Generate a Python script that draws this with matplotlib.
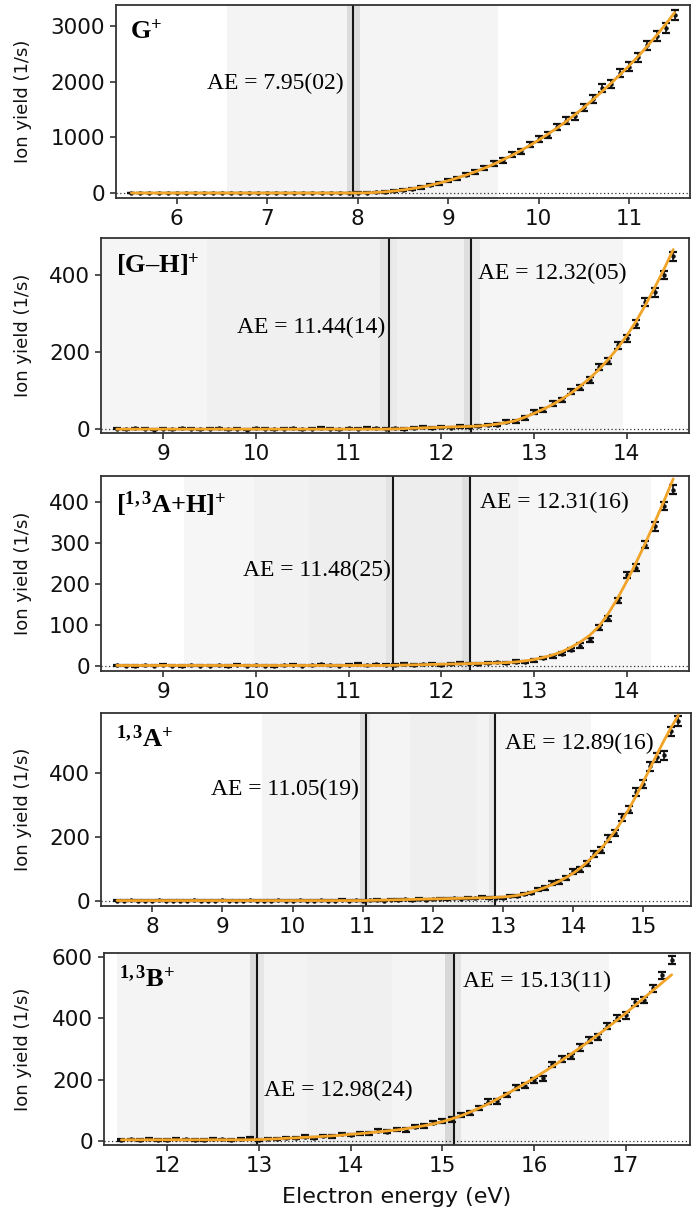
""" Ion yield curves of the five cations with appearance energies (AE).

    Out: out.png
"""

# Imports
import numpy as np
import matplotlib
matplotlib.use('Agg')
import matplotlib.pyplot as plt

# Fonts: sans for axes, Times-like serif for annotations
plt.rcParams['font.family'] = ['DejaVu Sans']
plt.rcParams['mathtext.fontset'] = 'custom'
plt.rcParams['mathtext.rm'] = 'Liberation Serif'
plt.rcParams['mathtext.it'] = 'Liberation Serif:italic'
plt.rcParams['mathtext.bf'] = 'Liberation Serif:bold'
SERIF = 'Liberation Serif'

# Colours
C_FIT = '#F2A428'
C_DATA = '#111111'
C_LINE = '#151515'

# ---------------------------------------------------------------- data
# G+ (5.5 .. 11.5 eV, 0.1 eV step)
G_E = np.linspace(5.5, 11.5, 61)
G_Y = [2, -1, 1, 0, 3, -2, 1, 2, 0, -1, 2, 1, -2, 3, 0, 1, -1, 2, 1, 0, 2, -1, 1, 3, 2,
       4, 6, 12, 18, 38, 52, 80, 100, 146, 172,
       228, 262, 332, 376, 455, 530, 585, 690, 750, 870,
       975, 1040, 1190, 1300, 1380, 1540, 1690, 1880, 1960, 2150,
       2270, 2440, 2650, 2820, 2960, 3190]
G_ERR = [3] * 25 + [5, 5, 8, 10, 12, 15, 18, 20, 22, 25,
                    28, 30, 32, 35, 38, 40, 42, 45, 48, 50,
                    52, 55, 58, 60, 62, 65, 68, 70, 72, 75,
                    78, 80, 82, 85, 88, 90]
G_FIT = [0] * 25 + [0.3, 3, 10, 20, 35, 54, 78, 106, 140, 178,
                    221, 270, 324, 383, 447, 517, 593, 674, 761, 853,
                    952, 1056, 1166, 1283, 1408, 1540, 1680, 1826, 1975, 2130,
                    2290, 2460, 2640, 2830, 3030, 3240]
G_AE = [7.95]

# [G-H]+ (8.5 .. 14.5 eV)
GH_E = np.linspace(8.5, 14.5, 61)
GH_Y = [1, 0, 2, 1, -1, 1, 0, 2, 1, 0, 1, 2, 0, 1, -1, 2, 1, 0, 1, 2, 0, 1, 3, 1, 0, 2, 1, 4, 2, 1,
        2, 1, 3, 5, 3, 6, 4, 7, 6, 9,
        11, 12, 19, 20, 30, 44, 50, 66, 76, 97,
        108, 128, 162, 176, 218, 236, 272, 330, 355, 400,
        448]
GH_ERR = [1.5] * 30 + [2, 2, 2, 2, 2, 2, 2, 3, 3, 3,
                       3, 3, 4, 4, 5, 5, 5, 6, 6, 7,
                       7, 7, 8, 8, 9, 9, 10, 10, 11, 11,
                       12]
GH_FIT = [0] * 30 + [0.5, 1.5, 2.5, 3.3, 4, 4.8, 5.5, 6.2, 7, 8,
                     10, 13, 17, 22, 31, 41, 52, 64, 78, 94,
                     112, 132, 155, 181, 210, 243, 280, 322, 367, 415,
                     466]
GH_AE = [11.44, 12.32]

# [1,3A+H]+ (8.5 .. 14.5 eV)
AH_E = np.linspace(8.5, 14.5, 61)
AH_Y = [2, 1, 0, 2, 1, 3, 1, 0, 2, 1, 1, 2, 0, 3, 1, 2, 1, 0, 2, 3, 1, 2, 4, 2, 1, 3, 5, 2, 4, 3,
        3, 5, 2, 4, 6, 3, 5, 8, 6, 5,
        7, 9, 8, 11, 10, 14, 20, 24, 30, 40,
        50, 64, 95, 115, 160, 222, 240, 296, 340, 390,
        430]
AH_ERR = [1.5] * 30 + [2, 2, 2, 2, 2, 2, 2, 2, 2, 2,
                       2, 2, 2, 3, 3, 3, 3, 4, 4, 4,
                       5, 5, 6, 6, 7, 8, 8, 9, 10, 10,
                       11]
AH_FIT = [1.5] * 30 + [2, 2.5, 3, 3.5, 4, 4.5, 5, 5.5, 6, 6.5,
                       7, 7.5, 8.5, 10, 12.5, 16, 21, 27, 35, 46,
                       59, 75, 97, 128, 165, 207, 252, 300, 350, 402,
                       456]
AH_AE = [11.48, 12.31]

# 1,3A+ (7.5 .. 15.5 eV)
A_E = np.linspace(7.5, 15.5, 81)
A_Y = [1, 0, 2, 1, 0, 1, 2, 0, 1, 1, 0, 2, 1, 0, 1, 2, 1, 0, 1, 2, 0, 1, 1, 2, 0, 1, 2, 1, 0, 2,
       1, 1, 3, 0, 2, 1,
       2, 3, 1, 4, 3, 5, 2, 6, 4, 5, 7, 6, 8, 7, 9, 8, 12, 9, 10,
       10, 15, 14, 22, 25, 36, 40, 55, 58, 72,
       92, 98, 118, 146, 160, 195, 212, 262, 285, 340,
       365, 420, 448, 455, 530, 562]
A_ERR = [1.5] * 36 + [2] * 19 + [3, 3, 3, 4, 4, 5, 5, 6, 6, 7,
                                  7, 8, 8, 9, 9, 10, 10, 11, 11, 12,
                                  12, 13, 13, 14, 14, 15]
A_FIT = [1] * 36 + [1.5, 2, 2.5, 3, 3.5, 4, 4.5, 5, 5.5, 6, 6.5, 7, 7.5, 8, 8.5, 9, 9.5, 10, 11,
                    12, 14, 17, 21, 27, 34, 42, 51, 61, 73,
                    86, 102, 121, 142, 164, 190, 219, 252, 289, 329,
                    372, 416, 460, 503, 543, 580]
A_AE = [11.05, 12.89]

# 1,3B+ (11.5 .. 17.5 eV)
B_E = np.linspace(11.5, 17.5, 61)
B_Y = [3, 5, 2, 6, 4, 3, 8, 5, 4, 3, 6, 5, 4, 7, 9,
       4, 8, 6, 11, 9, 14, 10, 17, 15, 22,
       20, 26, 25, 33, 30, 38, 37, 47, 48, 60,
       65, 70, 85, 92, 108, 128, 130, 150, 175, 180,
       198, 204, 250, 268, 276, 305, 330, 340, 376, 402,
       410, 452, 460, 498, 540, 590]
B_ERR = [3] * 15 + [3, 3, 3, 3, 3, 4, 4, 4, 4, 4,
                    4, 5, 5, 5, 5, 5, 6, 6, 6, 6,
                    6, 7, 7, 7, 7, 8, 8, 8, 8, 8,
                    9, 9, 9, 9, 9, 10, 10, 10, 10, 10,
                    11, 11, 11, 11, 12, 12]
B_FIT = [4] * 15 + [5, 6, 7, 9, 10, 12, 13, 15, 17, 19,
                    22, 24, 27, 30, 33, 36, 40, 45, 50, 56,
                    63, 72, 82, 94, 107, 121, 137, 153, 170, 187,
                    205, 224, 243, 263, 283, 304, 325, 347, 370, 393,
                    417, 442, 467, 492, 517, 542]
B_AE = [12.98, 15.13]

# Grey uncertainty bands (from, to, grey)
G_BANDS = [(6.56, 9.55, '#f4f4f4'), (7.88, 8.03, '#dcdcdc')]
GH_BANDS = [(8.0, 9.47, '#f5f5f5'), (9.47, 11.34, '#f0f0f0'), (11.34, 11.44, '#e4e4e4'),
            (11.44, 11.52, '#eaeaea'), (11.52, 12.24, '#f0f0f0'), (12.24, 12.32, '#dedede'),
            (12.32, 12.42, '#eaeaea'), (12.42, 13.96, '#f5f5f5')]
AH_BANDS = [(9.22, 9.98, '#f6f6f6'), (9.98, 10.57, '#f2f2f2'), (10.57, 11.40, '#eeeeee'),
            (11.40, 11.48, '#e3e3e3'), (11.48, 12.22, '#ededed'), (12.22, 12.31, '#dfdfdf'),
            (12.31, 12.83, '#f2f2f2'), (12.83, 14.26, '#f6f6f6')]
A_BANDS = [(9.57, 10.96, '#f4f4f4'), (10.96, 11.05, '#dcdcdc'), (11.05, 11.10, '#e8e8e8'),
           (11.10, 11.67, '#f4f4f4'), (11.67, 12.63, '#efefef'), (12.63, 12.80, '#f3f3f3'),
           (12.80, 12.89, '#e6e6e6'), (12.89, 14.26, '#f5f5f5')]
B_BANDS = [(11.45, 12.90, '#f4f4f4'), (12.90, 12.98, '#dadada'), (12.98, 13.06, '#e6e6e6'),
           (13.06, 13.52, '#f3f3f3'), (13.52, 14.45, '#f0f0f0'), (14.45, 15.03, '#f4f4f4'),
           (15.03, 15.13, '#d8d8d8'), (15.13, 15.20, '#e4e4e4'), (15.20, 16.82, '#f5f5f5')]

# Annotation text: (x, y, text, horizontal alignment)
G_TEXT = [(7.84, 1975, 'AE = 7.95(02)', 'right')]
GH_TEXT = [(11.40, 265, 'AE = 11.44(14)', 'right'), (12.39, 405, 'AE = 12.32(05)', 'left')]
AH_TEXT = [(11.46, 232, 'AE = 11.48(25)', 'right'), (12.42, 398, 'AE = 12.31(16)', 'left')]
A_TEXT = [(10.94, 347, 'AE = 11.05(19)', 'right'), (13.03, 493, 'AE = 12.89(16)', 'left')]
B_TEXT = [(13.05, 166, 'AE = 12.98(24)', 'left'), (15.23, 519, 'AE = 15.13(11)', 'left')]

# Species names
NAMES = [r'$\mathbf{G^{+}}$', r'$\mathbf{[G–H]^{+}}$', r'$\mathbf{[^{1,3}A{+}H]^{+}}$',
         r'$\mathbf{{}^{1,3}A^{+}}$', r'$\mathbf{{}^{1,3}B^{+}}$']

# ---------------------------------------------------------------- layout
W, H = 699, 1213

# panel boxes in pixels: left, top, right, bottom
PANELS = [
    dict(E=G_E, y=G_Y, err=G_ERR, fit=G_FIT, ae=G_AE, bands=G_BANDS, text=G_TEXT,
         box=(116, 5, 690, 198), xlim=(5.33, 11.67), ylim=(-90, 3377),
         yticks=[0, 1000, 2000, 3000], xticks=[6, 7, 8, 9, 10, 11]),
    dict(E=GH_E, y=GH_Y, err=GH_ERR, fit=GH_FIT, ae=GH_AE, bands=GH_BANDS, text=GH_TEXT,
         box=(101, 238, 689, 433), xlim=(8.33, 14.67), ylim=(-10, 496),
         yticks=[0, 200, 400], xticks=[9, 10, 11, 12, 13, 14]),
    dict(E=AH_E, y=AH_Y, err=AH_ERR, fit=AH_FIT, ae=AH_AE, bands=AH_BANDS, text=AH_TEXT,
         box=(101, 476, 689, 671), xlim=(8.33, 14.67), ylim=(-12, 463),
         yticks=[0, 100, 200, 300, 400], xticks=[9, 10, 11, 12, 13, 14]),
    dict(E=A_E, y=A_Y, err=A_ERR, fit=A_FIT, ae=A_AE, bands=A_BANDS, text=A_TEXT,
         box=(101, 713, 691, 906), xlim=(7.27, 15.68), ylim=(-16, 587),
         yticks=[0, 200, 400], xticks=[8, 9, 10, 11, 12, 13, 14, 15]),
    dict(E=B_E, y=B_Y, err=B_ERR, fit=B_FIT, ae=B_AE, bands=B_BANDS, text=B_TEXT,
         box=(104, 953, 690, 1145), xlim=(11.31, 17.7), ylim=(-13, 613),
         yticks=[0, 200, 400, 600], xticks=[12, 13, 14, 15, 16, 17]),
]

fig = plt.figure(figsize=(W / 100, H / 100), dpi=100)

for p, name in zip(PANELS, NAMES):
    l, t, r, b = p['box']
    ax = fig.add_axes([l / W, 1 - b / H, (r - l) / W, (b - t) / H])

    # shaded AE uncertainty ranges
    for lo, hi, c in p['bands']:
        ax.axvspan(lo, hi, color=c, lw=0, zorder=0)

    # AE positions
    for ae in p['ae']:
        ax.axvline(ae, color=C_LINE, lw=1.5, zorder=2)

    # zero line
    ax.axhline(0, color='#333333', ls=(0, (1, 2)), lw=0.9, zorder=1)

    # measured points and fit
    ax.errorbar(p['E'], p['y'], yerr=p['err'], fmt='o', ms=2.2, color=C_DATA,
                ecolor=C_DATA, elinewidth=1.2, capsize=2.6, capthick=1.6, zorder=3)
    ax.plot(p['E'], p['fit'], color=C_FIT, lw=2.0, zorder=4, solid_capstyle='round')

    # labels
    for x, y, s, ha in p['text']:
        ax.text(x, y, s, ha=ha, va='center', family=SERIF, fontsize=17, zorder=5)
    ax.text(0.025, 0.93, name, transform=ax.transAxes, ha='left', va='top',
            fontsize=19, zorder=5)

    # axes formatting
    ax.set_xlim(*p['xlim'])
    ax.set_ylim(*p['ylim'])
    ax.set_xticks(p['xticks'])
    ax.set_yticks(p['yticks'])
    ax.tick_params(direction='out', length=4, width=1.1, labelsize=15.5, pad=4,
                   color='#222222', labelcolor='#111111')
    for s in ax.spines.values():
        s.set_linewidth(1.3)
        s.set_color('#333333')

    # y label
    fig.text(32 / W, 1 - (t + b) / 2 / H, 'Ion yield (1/s)', rotation=90,
             ha='right', va='center', fontsize=13, color='#111111')

# x label
fig.text(397 / W, 1 - 1197 / H, 'Electron energy (eV)', ha='center', va='center',
         fontsize=16, color='#111111')

fig.savefig('out.png', dpi=100)
